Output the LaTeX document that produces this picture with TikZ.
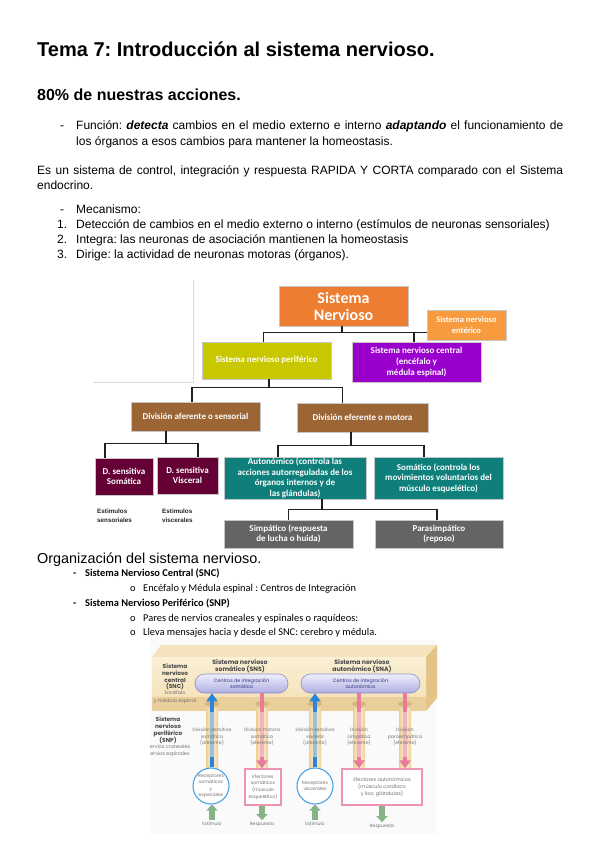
\documentclass[tikz,border=0pt]{standalone}
\usepackage{fontspec}
\setmainfont{Liberation Sans}
\newfontfamily\calfont{Carlito}
\newfontfamily\popfont{Poppins}
\usetikzlibrary{arrows.meta,calc}
\definecolor{cOrange}{HTML}{ED7D31}
\definecolor{cEnt}{HTML}{F89B3E}
\definecolor{cSNP}{HTML}{C9C800}
\definecolor{cSNC}{HTML}{9900CC}
\definecolor{cBrown}{HTML}{9B6535}
\definecolor{cMaroon}{HTML}{650034}
\definecolor{cTeal}{HTML}{0E7F7B}
\definecolor{cGray}{HTML}{646464}
\definecolor{prTop}{HTML}{F4E3BC}
\definecolor{prSide}{HTML}{E3C487}
\definecolor{prFrontTop}{HTML}{FAF0D6}
\definecolor{prFront}{HTML}{F5E3BA}
\definecolor{prBand}{HTML}{EACF9B}
\definecolor{holeC}{HTML}{D9B77C}
\definecolor{tubeEdge}{HTML}{EDCF95}
\definecolor{tubeMid}{HTML}{FBF2DC}
\definecolor{bDark}{HTML}{2A86D6}
\definecolor{bLight}{HTML}{9DC0D8}
\definecolor{pDark}{HTML}{E97C9D}
\definecolor{pLight}{HTML}{F4B3BE}
\definecolor{gArr}{HTML}{86B388}
\definecolor{pillEdge}{HTML}{8C8CCB}
\definecolor{pillTop}{HTML}{EFEFFC}
\definecolor{pillBot}{HTML}{AEAEE2}
\definecolor{recBlue}{HTML}{4AA2E2}
\definecolor{effPink}{HTML}{EE93B3}
\definecolor{figBg}{HTML}{FAFAFA}
\begin{document}
\frenchspacing
\begin{tikzpicture}[x=1pt,y=-1pt,
  txt/.style={anchor=base west, inner sep=0pt, font=\fontsize{12}{14}\selectfont},
  cbox/.style={draw=black!22, line width=0.5pt, inner sep=0pt, align=center, text=white,
    font=\calfont\bfseries\fontsize{9}{10.6}\selectfont},
  conn/.style={draw=black!88, line width=1.4pt},
  estl/.style={anchor=west, inner sep=0pt, align=left, text=black!85,
    font=\bfseries\fontsize{6.3}{8.6}\selectfont},
  ltxt/.style={anchor=base west, inner sep=0pt, font=\calfont\fontsize{10.4}{12}\selectfont},
  lbold/.style={ltxt, font=\calfont\bfseries\fontsize{10.4}{12}\selectfont},
  fg/.style={inner sep=0pt, align=center, text=black!55, font=\popfont\fontsize{4.6}{6.6}\selectfont},
  fb/.style={inner sep=0pt, align=center, text=black!72, font=\popfont\bfseries\fontsize{5.8}{6.8}\selectfont},
  pill/.style={draw=pillEdge, line width=0.6pt, rounded corners=9.5pt, top color=pillTop,
    bottom color=pillBot, minimum height=19pt, inner sep=0pt, align=center, text=black!50!blue!60!gray,
    font=\popfont\fontsize{4.8}{6.4}\selectfont},
  rcirc/.style={circle, draw=recBlue, line width=1.1pt, fill=white, minimum size=36pt, inner sep=0pt},
  effbox/.style={draw=effPink, line width=1.1pt, fill=white, minimum height=36pt, inner sep=0pt},
  barrow/.style={draw=bDark, line width=4.6pt, -{Triangle[width=11pt,length=8pt]}},
  parrow/.style={draw=pDark, line width=4.6pt, -{Triangle[width=11pt,length=8pt]}},
  garrow/.style={draw=gArr, line width=5.5pt, -{Triangle[width=11pt,length=6pt]}}
]
\fill[white] (0,0) rectangle (599,848);
\useasboundingbox (0,0) rectangle (599,848);

% ---------- top text ----------
\node[anchor=base west, inner sep=0pt, font=\bfseries\fontsize{20}{24}\selectfont] (title) at (37,57)
  {Tema 7: Introducción al sistema nervioso.};
\node[anchor=base west, inner sep=0pt, font=\bfseries\fontsize{16}{19}\selectfont] (sub) at (37,101)
  {80\% de nuestras acciones.};
\node[txt] (d1) at (60,130) {-};
\node[txt] (l1) at (76,130) {\makebox[487pt][s]{Función: \textbf{\textit{detecta}} cambios en el medio externo e interno \textbf{\textit{adaptando}} el funcionamiento de}};
\node[txt] (l2) at (76,145) {los órganos a esos cambios para mantener la homeostasis.};
\node[txt] (l3) at (37,174) {\makebox[526pt][s]{Es un sistema de control, integración y respuesta RAPIDA Y CORTA comparado con el Sistema}};
\node[txt] (l4) at (37,189) {endocrino.};
\node[txt] (d2) at (60,213) {-};
\node[txt] (l5) at (76,213) {Mecanismo:};
\node[txt] (n1) at (57,228) {1.};
\node[txt] (l6) at (76,228) {Detección de cambios en el medio externo o interno (estímulos de neuronas sensoriales)};
\node[txt] (n2) at (57,243) {2.};
\node[txt] (l7) at (76,243) {Integra: las neuronas de asociación mantienen la homeostasis};
\node[txt] (n3) at (57,258) {3.};
\node[txt] (l8) at (76,258) {Dirige: la actividad de neuronas motoras (órganos).};

% ---------- chart ----------
\draw[black!15, line width=0.8pt] (193,280) -- (193,382) -- (93,382);
\node[cbox, fill=cOrange, minimum width=129pt, minimum height=40pt,
  font=\calfont\bfseries\fontsize{16}{17}\selectfont] (sn) at (343.5,306) {Sistema\\Nervioso};
\node[cbox, fill=cEnt, minimum width=79pt, minimum height=30pt,
  font=\calfont\bfseries\fontsize{8.5}{11}\selectfont] (ent) at (466.5,325) {Sistema nervioso\\entérico};
\node[cbox, fill=cSNP, minimum width=129pt, minimum height=37pt] (snp) at (266.5,360.5) {Sistema nervioso periférico};
\node[cbox, fill=cSNC, minimum width=129pt, minimum height=40pt] (snc) at (416.5,362) {Sistema nervioso central\\(encéfalo y\\médula espinal)};
\node[cbox, fill=cBrown, minimum width=129pt, minimum height=29pt] (afe) at (195.5,416.5) {División aferente o sensorial};
\node[cbox, fill=cBrown, minimum width=131pt, minimum height=29pt] (efe) at (362.5,417.5) {División eferente o motora};
\node[cbox, fill=cMaroon, minimum width=58pt, minimum height=37pt] (dss) at (124,476.5) {D. sensitiva\\Somática};
\node[cbox, fill=cMaroon, minimum width=61pt, minimum height=37pt] (dsv) at (187.5,475.5) {D. sensitiva\\Visceral};
\node[cbox, fill=cTeal, minimum width=142pt, minimum height=42pt] (aut) at (295,478) {Autonómico (controla las\\acciones autorreguladas de los\\órganos internos y de\\las glándulas)};
\node[cbox, fill=cTeal, minimum width=129pt, minimum height=42pt] (som) at (438.5,478) {Somático (controla los\\movimientos voluntarios del\\músculo esquelético)};
\node[cbox, fill=cGray, minimum width=129pt, minimum height=28pt] (sim) at (288.5,534) {Simpático (respuesta\\de lucha o huida)};
\node[cbox, fill=cGray, minimum width=128pt, minimum height=28pt] (par) at (439,534) {Parasimpático\\(reposo)};
\node[estl] (es1) at (97,515.5) {Estimulos\\sensoriales};
\node[estl] (es2) at (162,515.5) {Estimulos\\viscerales};

\draw[conn] ([xshift=-1.5pt]sn.south) -- ++(0,6) coordinate (j1);
\draw[conn] (ent.west |- j1) -| ([xshift=-3pt]snp.north);
\draw[conn] (j1) -| ([xshift=-2.5pt]snc.north);
\draw[conn] ([xshift=2.5pt]snp.south) -- ++(0,8) coordinate (j2);
\draw[conn] ([xshift=-3.5pt]afe.north) |- (j2) -| ([xshift=-20pt]efe.north);
\draw[conn] ([xshift=-29.5pt]afe.south) -- ++(0,12) coordinate (j3);
\draw[conn] ([xshift=-19pt]dss.north) |- (j3) -| ([xshift=10.5pt]dsv.north);
\draw[conn] ([xshift=-11.5pt]efe.south) -- ++(0,13) coordinate (j4);
\draw[conn] ([xshift=-17pt]aut.north) |- (j4) -| ([xshift=-14.5pt]som.north);
\draw[conn] ([xshift=27pt]aut.south) -- ++(0,10) coordinate (j5);
\draw[conn] (sim.north) |- (j5) -| ([xshift=-2pt]par.north);

% ---------- lower text ----------
\node[anchor=base west, inner sep=0pt, font=\fontsize{14.4}{16}\selectfont] (org) at (37,563) {Organización del sistema nervioso.};
\node[lbold] (b1) at (73,576.5) {-};
\node[lbold] (t1x) at (85,576.5) {Sistema Nervioso Central (SNC)};
\node[ltxt] (o1) at (130,591.5) {o};
\node[ltxt] (t2x) at (143,591.5) {Encéfalo y Médula espinal : Centros de Integración};
\node[lbold] (b2) at (73,606.5) {-};
\node[lbold] (t3x) at (85,606.5) {Sistema Nervioso Periférico (SNP)};
\node[ltxt] (o2) at (130,621.5) {o};
\node[ltxt] (t4x) at (143,621.5) {Pares de nervios craneales y espinales o raquídeos:};
\node[ltxt] (o3) at (130,635.5) {o};
\node[ltxt] (t5x) at (143,635.5) {Lleva mensajes hacia y desde el SNC: cerebro y médula.};

% ---------- lower figure ----------
\fill[figBg] (150,640) rectangle (436,834);
% prism
\fill[prTop] (152,657) -- (161,645) -- (437,645) -- (426,657) -- cycle;
\fill[prSide] (426,657) -- (437,645) -- (437,698) -- (426,711) -- cycle;
\shade[top color=prFrontTop, bottom color=prFront] (152,657) rectangle (426,697);
\fill[prBand] (152,697) rectangle (426,711);

\coordinate (tA) at (212,704);
\coordinate (tB) at (262,704);
\coordinate (tC) at (315,704);
\coordinate (tD) at (359,704);
\coordinate (tE) at (405,704);

\foreach \t in {tA,tB,tC,tD,tE}{
  \shade[left color=tubeEdge, right color=tubeEdge, middle color=tubeMid]
    ($(\t)+(-6,4)$) rectangle ($(\t)+(6,66)$);
  \fill[holeC] (\t) ellipse (7 and 2.6);
}

\node[fb] (snclab) at (175,677) {Sistema\\nervioso\\central\\(SNC)};
\node[fg, font=\popfont\fontsize{4.9}{7.6}\selectfont] (snclab2) at (175,697.5) {Encéfalo\\y médula espinal};
\node[fb, font=\popfont\bfseries\fontsize{6.2}{7}\selectfont] (sns) at (240,666.5) {Sistema nervioso\\somático (SNS)};
\node[fb, font=\popfont\bfseries\fontsize{6.2}{7}\selectfont] (sna) at (362,666.5) {Sistema nervioso\\autonómico (SNA)};
\node[pill, minimum width=93pt] (cis) at (241.5,683.5) {Centros de integración\\somática};
\node[pill, minimum width=119pt] (cia) at (360.5,683.5) {Centros de integración\\autonómica};

\node[fb] (snplab) at (168,730.5) {Sistema\\nervioso\\periférico\\(SNP)};
\node[fg, font=\popfont\fontsize{4.9}{7}\selectfont] (snplab2) at (170,750.5) {ervios craneales\\ervios espinales};

\node[rcirc] (rec1) at (211,786) {};
\node[fg] (rec1t) at (rec1) {Receptores\\somáticos\\y\\especiales};
\node[rcirc] (rec2) at (315,786) {};
\node[fg] (rec2t) at (rec2) {Receptores\\viscerales};
\node[effbox, minimum width=36pt] (eff1) at (263,787) {};
\node[fg] (eff1t) at (eff1) {Efectores\\somáticos\\(músculo\\esquelético)};
\node[effbox, minimum width=80pt] (eff2) at (382,787) {};
\node[fg, font=\popfont\fontsize{5}{7}\selectfont] (eff2t) at (eff2) {Efectores autonómicos\\(músculo cardíaco\\y liso; glándulas)};

% arrows through tubes
\draw[barrow] (rec1.north -| tA) -- (cis.south -| tA);
\fill[bLight] ($(tA)+(-2.3,8)$) rectangle ($(tA)+(2.3,53)$);
\draw[barrow] (rec2.north -| tC) -- (cia.south -| tC);
\fill[bLight] ($(tC)+(-2.3,8)$) rectangle ($(tC)+(2.3,53)$);
\draw[parrow] (cis.south -| tB) -- (eff1.north -| tB);
\fill[pLight] ($(tB)+(-2.3,8)$) rectangle ($(tB)+(2.3,53)$);
\draw[parrow] (cia.south -| tD) -- (eff2.north -| tD);
\fill[pLight] ($(tD)+(-2.3,8)$) rectangle ($(tD)+(2.3,53)$);
\draw[parrow] (cia.south -| tE) -- (eff2.north -| tE);
\fill[pLight] ($(tE)+(-2.3,8)$) rectangle ($(tE)+(2.3,53)$);

\node[fg] (dl1) at (212,737) {División sensitiva\\somática\\(aferente)};
\node[fg] (dl2) at (262,737) {División motora\\somática\\(eferente)};
\node[fg] (dl3) at (315,737) {División sensitiva\\visceral\\(aferente)};
\node[fg] (dl4) at (359,737) {División\\simpática\\(eferente)};
\node[fg] (dl5) at (405,737) {División\\parasimpática\\(eferente)};

% stimulus / response
\node[fg] (st1) at (212,824) {Estímulo};
\node[fg] (rp1) at (262,824) {Respuesta};
\node[fg] (st2) at (315,824) {Estímulo};
\node[fg] (rp2) at (382,826) {Respuesta};
\draw[garrow] ([yshift=1.5pt]st1.north) -- (rec1.south -| st1);
\draw[garrow] (eff1.south -| rp1) -- ([yshift=1.5pt]rp1.north);
\draw[garrow] ([yshift=1.5pt]st2.north) -- (rec2.south -| st2);
\draw[garrow] (eff2.south -| rp2) -- ([yshift=1.5pt]rp2.north);
\end{tikzpicture}
\end{document}
